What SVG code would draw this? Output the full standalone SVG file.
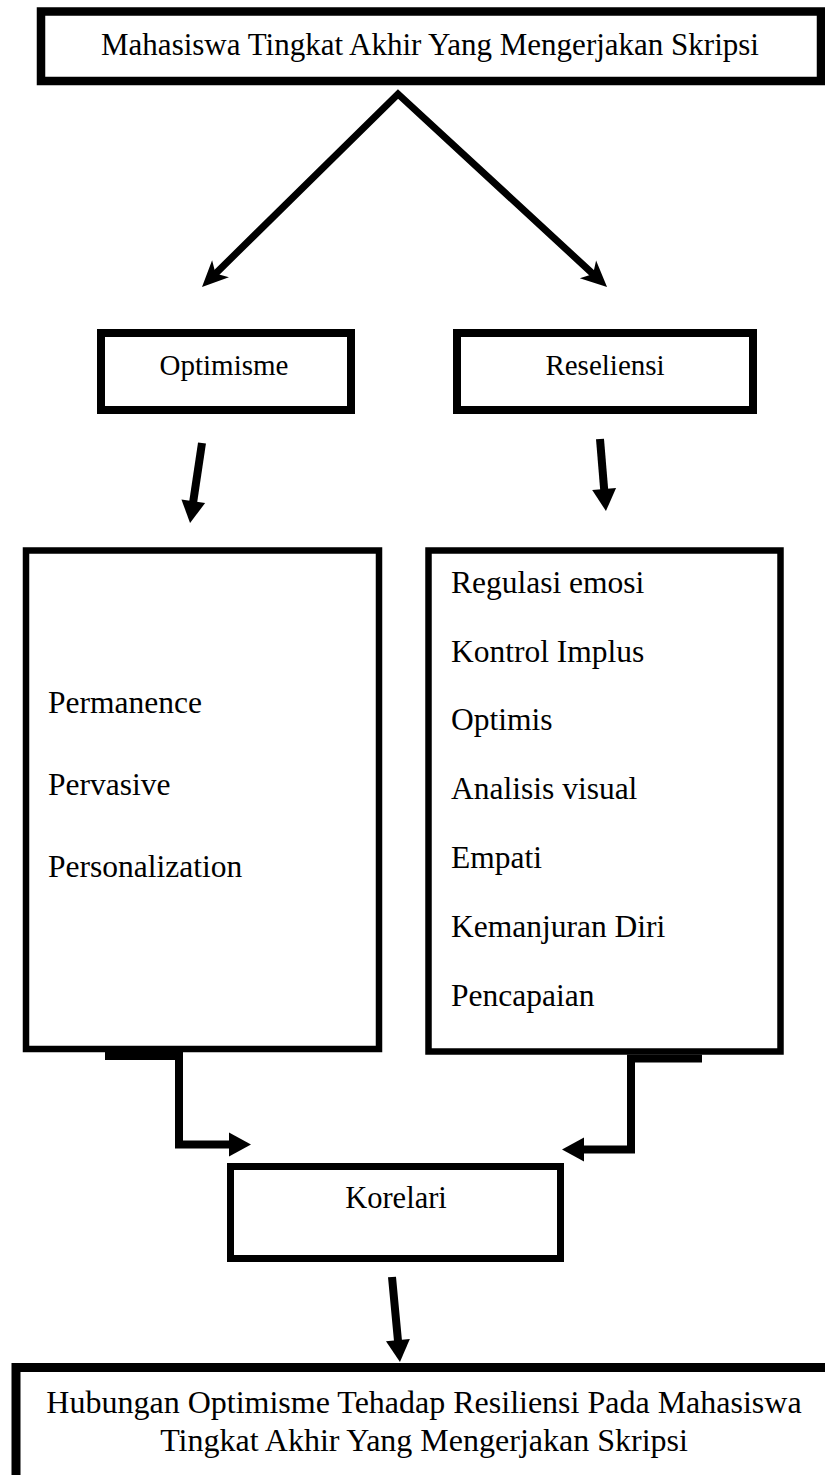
<svg xmlns="http://www.w3.org/2000/svg" width="825" height="1475" viewBox="0 0 825 1475">
<style>
.box{fill:#fff;stroke:#000}
.t{font-family:"Liberation Serif","Times New Roman",serif;fill:#000}
.c{text-anchor:middle}
.ln{fill:none;stroke:#000;stroke-width:8;stroke-linejoin:miter;stroke-miterlimit:10}
</style>
<defs>
<marker id="notch" markerUnits="userSpaceOnUse" markerWidth="30" markerHeight="26" viewBox="0 0 30 26" refX="12" refY="13" orient="auto-start-reverse" overflow="visible">
<path d="M28,13 L2,1 L9,13 L2,25 Z" fill="#000"/>
</marker>
<marker id="tri" markerUnits="userSpaceOnUse" markerWidth="24" markerHeight="26" viewBox="0 0 24 26" refX="2" refY="13" orient="auto" overflow="visible">
<path d="M22,13 L0,1 L0,25 Z" fill="#000"/>
</marker>
</defs>
<rect width="825" height="1475" fill="#fff"/>
<g id="connectors">
<path class="ln" style="stroke-width:7" d="M213.4,275.7 L398,94 L595.3,276.1" marker-start="url(#notch)" marker-end="url(#notch)"/>
<path class="ln" d="M202,443 L193,503.2" marker-end="url(#tri)"/>
<path class="ln" d="M600,439 L604.3,491.1" marker-end="url(#tri)"/>
<path class="ln" d="M105,1056 L179,1056 L179,1144.5 L231,1144.5" marker-end="url(#tri)"/>
<path class="ln" d="M702,1058.5 L631,1058.5 L631,1149.5 L582,1149.5" marker-end="url(#tri)"/>
<path class="ln" d="M392,1277 L398.1,1342.1" marker-end="url(#tri)"/>
</g>
<g id="top">
<rect class="box" x="41" y="11.5" width="780" height="69.5" stroke-width="8.5"/>
<text class="t c" x="430" y="55" font-size="31">Mahasiswa Tingkat Akhir Yang Mengerjakan Skripsi</text>
</g>
<g id="optimisme">
<rect class="box" x="101" y="333" width="250" height="77" stroke-width="8"/>
<text class="t c" x="224" y="375" font-size="29">Optimisme</text>
</g>
<g id="reseliensi">
<rect class="box" x="457" y="333" width="296" height="77" stroke-width="8"/>
<text class="t c" x="605" y="375" font-size="29">Reseliensi</text>
</g>
<g id="optimisme-aspek">
<rect class="box" x="26" y="550.5" width="353" height="498.5" stroke-width="6.5"/>
<text class="t" x="48" y="713" font-size="31.5">Permanence</text>
<text class="t" x="48" y="795" font-size="31.5">Pervasive</text>
<text class="t" x="48" y="877" font-size="31.5">Personalization</text>
</g>
<g id="resiliensi-aspek">
<rect class="box" x="428.5" y="550.5" width="352" height="501" stroke-width="6.5"/>
<text class="t" x="451" y="593" font-size="31.5">Regulasi emosi</text>
<text class="t" x="451" y="662" font-size="31.5">Kontrol Implus</text>
<text class="t" x="451" y="730" font-size="31.5">Optimis</text>
<text class="t" x="451" y="799" font-size="31.5">Analisis visual</text>
<text class="t" x="451" y="868" font-size="31.5">Empati</text>
<text class="t" x="451" y="937" font-size="31.5">Kemanjuran Diri</text>
<text class="t" x="451" y="1006" font-size="31.5">Pencapaian</text>
</g>
<g id="korelari">
<rect class="box" x="230.5" y="1166.5" width="330" height="92" stroke-width="7"/>
<text class="t c" x="396" y="1208" font-size="30.5">Korelari</text>
</g>
<g id="hasil">
<rect class="box" x="16" y="1367.5" width="820" height="120" stroke-width="9"/>
<text class="t c" x="424" y="1413" font-size="32">Hubungan Optimisme Tehadap Resiliensi Pada Mahasiswa</text>
<text class="t c" x="424" y="1451" font-size="32">Tingkat Akhir Yang Mengerjakan Skripsi</text>
</g>
</svg>
